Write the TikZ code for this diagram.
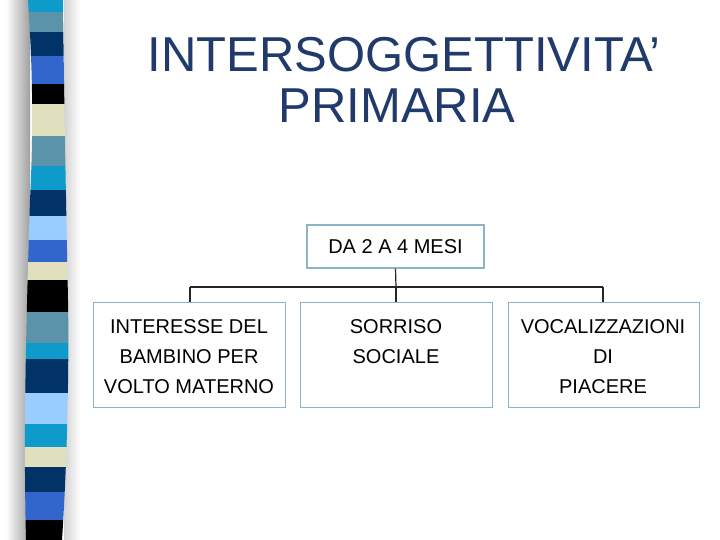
\documentclass[tikz,border=0pt]{standalone}
\usepackage{fontspec}
\setmainfont{Liberation Sans}
\definecolor{cyanb}{HTML}{0F9ACC}
\definecolor{steelb}{HTML}{5A93AA}
\definecolor{navyb}{HTML}{023366}
\definecolor{royalb}{HTML}{3366CC}
\definecolor{beigeb}{HTML}{E0E0BF}
\definecolor{lightb}{HTML}{99CCFF}
\definecolor{titlec}{HTML}{1F3A6B}
\definecolor{boxline}{HTML}{8EB2C8}
\tikzset{
  boxnode/.style={draw=boxline, line width=1.2pt, fill=white, inner sep=0pt, anchor=north west},
  boxtext/.style={inner sep=0pt, align=center, anchor=north, font=\fontsize{20}{30}\selectfont},
  conn/.style={draw=black!85, line width=1.2pt},
  titletext/.style={text=titlec, font=\fontsize{49}{50}\selectfont, align=center}
}
\begin{document}
\begin{tikzpicture}[x=1pt,y=-1pt]
\useasboundingbox (0,0) rectangle (720,540);
\fill[white] (0,0) rectangle (720,540);
% shadow
\shade[left color=white, right color=gray!75] (6,0) rectangle (30,540);
\shade[left color=gray!35, right color=white] (64,0) rectangle (80,540);
% strip
\begin{scope}
\clip (28,0) .. controls (32,60) and (34,120) .. (30,200) .. controls (27,300) and (23,420) .. (26,540) -- (62,540) .. controls (68,450) and (69,350) .. (68,300) .. controls (66,200) and (64,100) .. (63,0) -- cycle;
\fill[cyanb] (0,0) rectangle (80,12);
\fill[steelb] (0,12) rectangle (80,32);
\fill[navyb] (0,32) rectangle (80,56);
\fill[royalb] (0,56) rectangle (80,84);
\fill[black] (0,84) rectangle (80,104);
\fill[beigeb] (0,104) rectangle (80,136);
\fill[steelb] (0,136) rectangle (80,166);
\fill[cyanb] (0,166) rectangle (80,190);
\fill[navyb] (0,190) rectangle (80,216);
\fill[lightb] (0,216) rectangle (80,240);
\fill[royalb] (0,240) rectangle (80,262);
\fill[beigeb] (0,262) rectangle (80,280);
\fill[black] (0,280) rectangle (80,312);
\fill[steelb] (0,312) rectangle (80,343);
\fill[cyanb] (0,343) rectangle (80,359);
\fill[navyb] (0,359) rectangle (80,393);
\fill[lightb] (0,393) rectangle (80,424);
\fill[cyanb] (0,424) rectangle (80,447);
\fill[beigeb] (0,447) rectangle (80,467);
\fill[navyb] (0,467) rectangle (80,492);
\fill[royalb] (0,492) rectangle (80,520);
\fill[black] (0,520) rectangle (80,540);
\end{scope}
% title
\node[titletext] (title1) at (404,55) {INTERSOGGETTIVITA’};
\node[titletext] (title2) at (397,106) {PRIMARIA};
% boxes
\node[boxnode, minimum width=177pt, minimum height=43pt, anchor=center, font=\fontsize{20}{30}\selectfont] (top) at (395.5,246.5) {DA 2 A 4 MESI};
\node[boxnode, minimum width=192pt, minimum height=105pt] (b1) at (93,302) {};
\node[boxnode, minimum width=192pt, minimum height=105pt] (b2) at (300,302) {};
\node[boxnode, minimum width=191pt, minimum height=105pt] (b3) at (508,302) {};
\node[boxtext] (t1) at (189,319) {INTERESSE DEL\\BAMBINO PER\\VOLTO MATERNO};
\node[boxtext] (t2) at (396,319) {SORRISO\\SOCIALE};
\node[boxtext] (t3) at (603,319) {VOCALIZZAZIONI\\DI\\PIACERE};
% connectors
\coordinate (hl) at (190,287);
\coordinate (hm) at (396,287);
\coordinate (hr) at (603,287);
\draw[conn] (top.south) -- (hm);
\draw[conn] (hl) -- (hr);
\draw[conn] (hl) -- (hl |- b1.north);
\draw[conn] (hm) -- (hm |- b2.north);
\draw[conn] (hr) -- (hr |- b3.north);
\end{tikzpicture}
\end{document}
